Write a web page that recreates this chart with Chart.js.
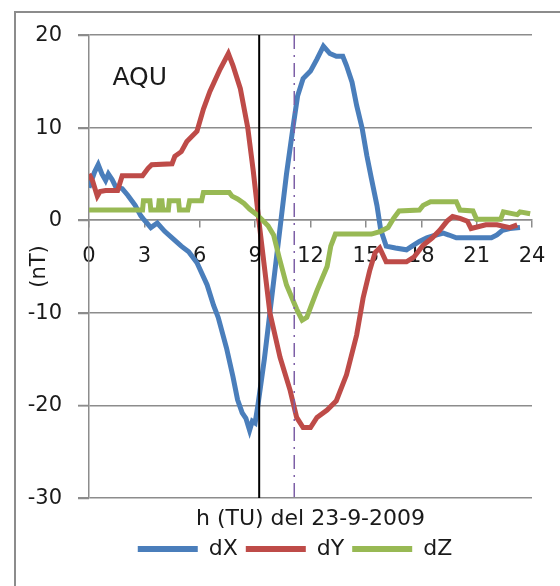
<!DOCTYPE html>
<html>
<head>
<meta charset="utf-8">
<script src="https://cdn.jsdelivr.net/npm/chart.js@4.4.1/dist/chart.umd.min.js"></script>
<style>
  html, body { margin: 0; padding: 0; background: #fff; }
  #wrap { position: relative; width: 560px; height: 586px; overflow: hidden; }
  /* cornice del grafico (tagliata a destra e in basso) */
  #frame { position: absolute; left: 14px; top: 11px; width: 700px; height: 700px;
           border-left: 2px solid #8c8c8c; border-top: 2px solid #8c8c8c; }
  canvas { position: absolute; left: 0; top: 0; }
</style>
</head>
<body>
<div id="wrap">
  <div id="frame"></div>
  <canvas id="chart" width="560" height="586"></canvas>
</div>
<script>
// Dati: ore (TU) e variazioni in nT
const dxHours = [0, 0.3, 0.5, 0.7, 0.9, 1.05, 1.25, 1.45, 1.8, 2.1, 2.5, 2.8, 3.0, 3.35, 3.7, 4.1, 4.5, 5.0,
  5.4, 5.85, 6.4, 6.75, 7.0, 7.45, 7.8, 8.05, 8.3, 8.5, 8.7, 8.85, 9.0, 9.15, 9.5, 9.8, 10.1, 10.4, 10.7,
  11.05, 11.3, 11.6, 12.0, 12.35, 12.7, 13.05, 13.4, 13.75, 13.95, 14.25, 14.5, 14.8, 15.05, 15.3, 15.6,
  15.8, 16.1, 16.6, 17.2, 17.5, 17.9, 18.3, 18.8, 19.2, 19.5, 19.9, 20.5, 21.2, 21.8, 22.1, 22.4, 22.8, 23.35];
const dxValues = [3.5, 5.2, 6.0, 5.0, 4.3, 5.0, 4.4, 3.6, 3.4, 2.7, 1.6, 0.5, 0.0, -0.8, -0.3, -1.2, -1.9, -2.8,
  -3.4, -4.6, -7.0, -9.2, -10.5, -13.8, -16.9, -19.4, -20.8, -21.4, -22.7, -21.7, -21.9, -20.0, -15.0, -10.0, -5.0, 0.0, 5.0,
  10.0, 13.4, 15.3, 16.1, 17.4, 18.8, 18.0, 17.7, 17.7, 16.7, 14.9, 12.4, 9.9, 7.0, 4.5, 1.6,
  -1.0, -2.8, -3.0, -3.2, -2.8, -2.3, -1.9, -1.6, -1.4, -1.6, -1.9, -1.9, -1.9, -1.9, -1.6, -1.1, -0.9, -0.8];

const dyHours = [0, 0.2, 0.45, 0.6, 0.9, 1.55, 1.8, 2.5, 2.9, 3.2, 3.4, 4.5, 4.65, 5.0, 5.3, 5.85, 6.2, 6.55,
  7.1, 7.55, 7.8, 8.2, 8.6, 8.9, 9.2, 9.8, 10.35, 10.9, 11.25, 11.6, 12.0, 12.35, 12.9, 13.4, 13.95, 14.5,
  14.85, 15.2, 15.5, 15.75, 16.1, 17.2, 17.6, 18.1, 18.6, 19.0, 19.4, 19.7, 20.1, 20.5, 20.7, 21.5, 22.1, 22.8, 23.2];
const dyValues = [5.0, 4.2, 2.6, 3.1, 3.2, 3.2, 4.8, 4.8, 4.8, 5.6, 6.0, 6.1, 6.9, 7.4, 8.5, 9.6, 12.0, 13.9,
  16.3, 18.0, 16.7, 14.2, 10.0, 5.3, 0.0, -10.0, -14.8, -18.4, -21.3, -22.4, -22.4, -21.3, -20.5, -19.5, -16.7, -12.4,
  -8.4, -5.5, -3.5, -3.0, -4.5, -4.5, -4.0, -2.7, -1.9, -1.1, -0.1, 0.4, 0.2, -0.1, -0.9, -0.5, -0.5, -0.8, -0.5];

const dzHours = [0, 2.9, 2.95, 3.3, 3.35, 3.75, 3.8, 3.95, 4.0, 4.3, 4.35, 4.85, 4.9, 5.35, 5.45, 6.1, 6.2, 7.6,
  7.75, 8.05, 8.4, 8.7, 9.15, 9.7, 10.0, 10.3, 10.7, 11.25, 11.55, 11.8, 12.35, 12.9, 13.1, 13.35, 15.3, 15.8,
  16.2, 16.5, 16.8, 17.9, 18.1, 18.5, 19.9, 20.1, 20.8, 21.0, 22.3, 22.45, 23.2, 23.35, 23.9];
const dzValues = [1.1, 1.1, 2.1, 2.1, 1.1, 1.1, 2.1, 2.1, 1.1, 1.1, 2.1, 2.1, 1.1, 1.1, 2.1, 2.1, 3.0, 3.0,
  2.6, 2.3, 1.8, 1.2, 0.5, -0.6, -1.6, -4.0, -7.0, -9.6, -10.8, -10.5, -7.6, -5.0, -2.8, -1.5, -1.5, -1.2,
  -0.8, 0.2, 1.0, 1.1, 1.6, 2.0, 2.0, 1.1, 1.0, 0.1, 0.1, 0.9, 0.6, 0.9, 0.7];

const seriesNames = ["dX", "dY", "dZ"];
const seriesColors = ["#4a7ebb", "#be4b48", "#98b954"];
const yRange = [-30, 20];
const xRange = [0, 24];
const markerHours = [9.22, 11.12];   // linea nera e linea tratto-punto
const stationName = "AQU";
const stationPos = [2.75, 15.3];     // ora, nT
const xTitle = "h (TU) del 23-9-2009";
const yTitle = "(nT)";

const FONT = "'DejaVu Sans', sans-serif";
const GRID = "#8c8c8c";
const TEXT = "#1a1a1a";
const LEGEND_SHIFT = 19;   // la legenda di Excel è spostata a destra
const Y_TICK_LEN = 11;
const Y_LABEL_GAP = 16;

Chart.defaults.font.family = FONT;
Chart.defaults.font.size = 21;
Chart.defaults.color = TEXT;

function toPoints(hours, values) {
  return hours.map((h, i) => ({ x: h, y: values[i] }));
}

function markerLine(h) {
  return [{ x: h, y: yRange[1] }, { x: h, y: yRange[0] }];
}

const seriesData = [toPoints(dxHours, dxValues), toPoints(dyHours, dyValues), toPoints(dzHours, dzValues)];

const datasets = seriesNames.map((name, i) => ({
  label: name,
  data: seriesData[i],
  borderColor: seriesColors[i],
  backgroundColor: seriesColors[i],
  borderWidth: 5,
  pointRadius: 0,
  tension: 0,
  order: 3 - i
}));

datasets.push({
  label: "t0",
  data: markerLine(markerHours[0]),
  borderColor: "#000",
  borderWidth: 2,
  pointRadius: 0,
  order: 0
});
datasets.push({
  label: "t1",
  data: markerLine(markerHours[1]),
  borderColor: "#7d5fa6",
  borderWidth: 1.5,
  borderDash: [14, 6, 2, 6],
  pointRadius: 0,
  order: 0
});

// tacche ed etichette asse y, nome stazione e titolo asse y
const extraText = {
  id: "extraText",
  afterLayout(chart) {
    chart.legend.left += LEGEND_SHIFT;
    chart.legend.right += LEGEND_SHIFT;
  },
  beforeDatasetsDraw(chart) {
    const { ctx, chartArea, scales } = chart;
    ctx.save();
    ctx.strokeStyle = GRID;
    ctx.lineWidth = 1.5;
    ctx.fillStyle = TEXT;
    ctx.font = "21px " + FONT;
    ctx.textAlign = "right";
    ctx.textBaseline = "middle";
    scales.y.ticks.forEach(t => {
      const y = Math.round(scales.y.getPixelForValue(t.value)) + 0.5;
      ctx.beginPath();
      ctx.moveTo(chartArea.left - Y_TICK_LEN, y);
      ctx.lineTo(chartArea.left, y);
      ctx.stroke();
      ctx.fillText(String(t.value), chartArea.left - Y_TICK_LEN - Y_LABEL_GAP, y);
    });
    ctx.restore();
  },
  afterDraw(chart) {
    const { ctx, chartArea, scales } = chart;
    ctx.save();
    ctx.fillStyle = TEXT;
    ctx.font = "25px " + FONT;
    ctx.textAlign = "center";
    ctx.textBaseline = "middle";
    ctx.fillText(stationName, scales.x.getPixelForValue(stationPos[0]), scales.y.getPixelForValue(stationPos[1]));
    ctx.font = "21px " + FONT;
    ctx.translate(40, (chartArea.top + chartArea.bottom) / 2);
    ctx.rotate(-Math.PI / 2);
    ctx.fillText(yTitle, 0, 0);
    ctx.restore();
  }
};

new Chart(document.getElementById("chart"), {
  type: "line",
  data: { datasets: datasets },
  options: {
    responsive: false,
    animation: false,
    layout: { padding: { left: 20, right: 28, top: 35, bottom: 16 } },
    scales: {
      x: {
        type: "linear",
        min: xRange[0],
        max: xRange[1],
        position: { y: 0 },
        ticks: { stepSize: 3, padding: 17, maxRotation: 0, autoSkip: false, color: TEXT },
        grid: { drawOnChartArea: false, tickLength: 7, color: GRID, lineWidth: 1.5 },
        border: { color: GRID, width: 1.5 },
        afterFit: scale => { scale.paddingLeft = 0; scale.paddingRight = 0; }
      },
      y: {
        min: yRange[0],
        max: yRange[1],
        ticks: { stepSize: 10, display: false },
        grid: { color: GRID, lineWidth: 1.5, tickLength: Y_TICK_LEN },
        border: { color: GRID, width: 1.5 },
        afterFit: scale => { scale.width = 69; }
      }
    },
    plugins: {
      legend: {
        position: "bottom",
        labels: {
          boxWidth: 60,
          boxHeight: 6,
          padding: 8,
          color: TEXT,
          font: { size: 22 },
          generateLabels: chart => Chart.defaults.plugins.legend.labels.generateLabels(chart)
            .filter(item => item.datasetIndex < seriesNames.length)
            .map(item => Object.assign(item, { lineWidth: 0 })),
          sort: (a, b) => a.datasetIndex - b.datasetIndex
        }
      },
      title: {
        display: true,
        text: xTitle,
        position: "bottom",
        fullSize: false,
        weight: 500,
        color: TEXT,
        padding: { top: 10, bottom: 0 },
        font: { size: 22, weight: "normal", lineHeight: 1 }
      },
      tooltip: { enabled: false }
    }
  },
  plugins: [extraText]
});
</script>
</body>
</html>
